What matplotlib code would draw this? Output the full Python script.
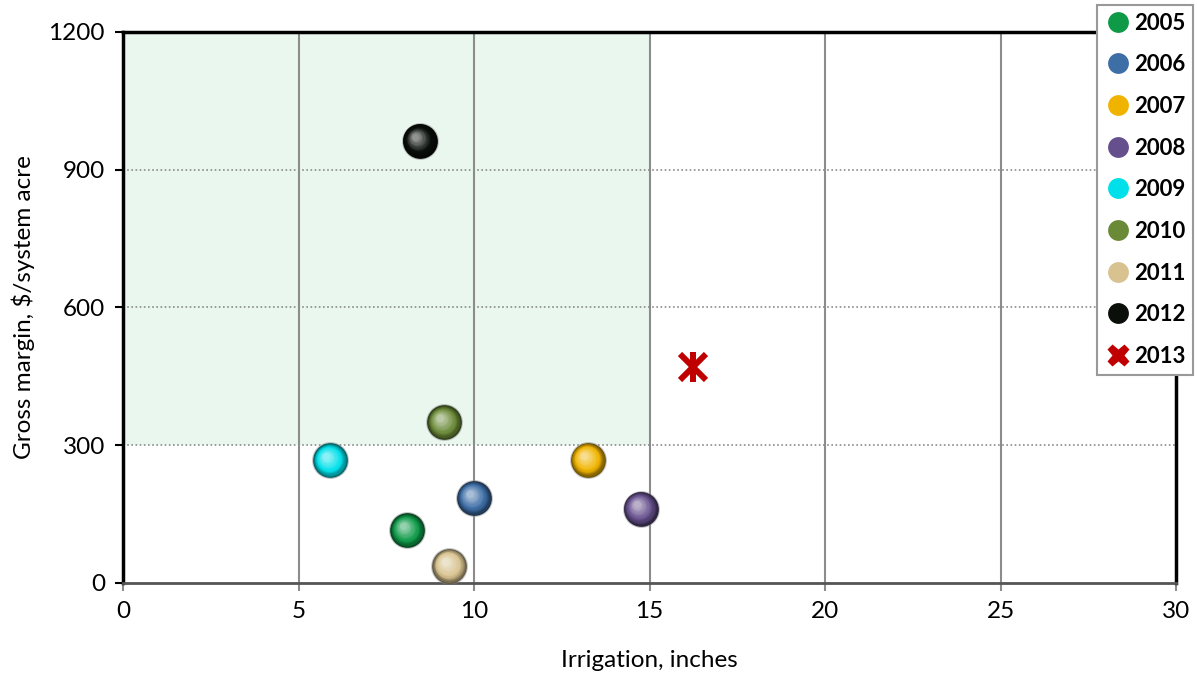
import numpy as np
import matplotlib
matplotlib.use('Agg')
import matplotlib.pyplot as plt
import matplotlib.colors as mcolors
from matplotlib.lines import Line2D
from matplotlib.transforms import offset_copy

plt.rcParams['font.family'] = ['Lato', 'DejaVu Sans']

years = ['2005', '2006', '2007', '2008', '2009', '2010', '2011', '2012']
irrigation = [8.1, 10.0, 13.25, 14.75, 5.9, 9.15, 9.3, 8.45]
margin = [115, 185, 268, 162, 267, 350, 37, 963]
colors = ['#0f9a48', '#3e6ea6', '#f0b400', '#654f8c', '#00e0ea', '#6b8a38', '#d8c390', '#0a0f0a']

x_2013 = 16.25
y_2013 = 470

xticks = [0, 5, 10, 15, 20, 25, 30]
yticks = [0, 300, 600, 900, 1200]


def sphere(ax, x, y, color, size=25, layers=14):
    # fake 3d ball: dark rim, lighter spot towards the top left
    base = np.array(mcolors.to_rgb(color))
    dark = base * 0.45
    light = base + (1 - base) * 0.55
    ax.plot(x, y, 'o', ms=size + 1.5, color='#888888', alpha=0.5, zorder=4, mec='none')
    for i in range(layers):
        f = i / (layers - 1)
        s = size * (1 - 0.8 * f)
        if f < 0.35:
            c = dark + (base - dark) * (f / 0.35)
        else:
            c = base + (light - base) * ((f - 0.35) / 0.65)
        tr = offset_copy(ax.transData, fig=ax.figure, x=-size * 0.12 * f, y=size * 0.12 * f, units='points')
        ax.plot(x, y, 'o', ms=s, color=np.clip(c, 0, 1), mec='none', transform=tr, zorder=5)


fig = plt.figure(figsize=(11.97, 6.75), dpi=100)
ax = fig.add_axes([0.1028, 0.1363, 0.8797, 0.8163])

ax.set_xlim(0, 30)
ax.set_ylim(0, 1200)

# shaded target zone
ax.fill_between([0, 15], 300, 1200, color='#eaf7ee', zorder=0, lw=0)

for xv in xticks[1:-1]:
    ax.axvline(xv, color='#8c8c8c', lw=1.5, zorder=1)
for yv in yticks[1:-1]:
    ax.axhline(yv, color='#8c8c8c', lw=1.2, ls=(0, (1, 1.5)), zorder=1)

for i in range(len(years)):
    sphere(ax, irrigation[i], margin[i], colors[i])

# excel style asterisk: an X with a vertical bar through it
ax.plot(x_2013, y_2013, marker='x', ms=19, mew=4.3, color='#c00000', ls='none', zorder=6)
ax.plot(x_2013, y_2013, marker='|', ms=21, mew=4.3, color='#c00000', ls='none', zorder=6)

ax.set_xticks(xticks)
ax.set_yticks(yticks)
ax.tick_params(axis='both', labelsize=17.5, length=6, width=1.5)
ax.tick_params(axis='x', colors='#8c8c8c', labelcolor='black', pad=7)
ax.tick_params(axis='y', colors='black', pad=7)

for s in ['top', 'left', 'right']:
    ax.spines[s].set_linewidth(2.5)
    ax.spines[s].set_color('black')
ax.spines['bottom'].set_linewidth(2)
ax.spines['bottom'].set_color('#555555')

ax.set_xlabel('Irrigation, inches', fontsize=17.5, labelpad=20)
ax.set_ylabel('Gross margin, $/system acre', fontsize=17.5, labelpad=10)

handles = []
for i in range(len(years)):
    handles.append(Line2D([], [], marker='o', ls='none', ms=15, color=colors[i], mec='none'))
handles.append(Line2D([], [], marker='X', ls='none', ms=16, color='#c00000', mec='none'))
leg = fig.legend(handles, years + ['2013'], loc='upper right', bbox_to_anchor=(0.9965, 0.993),
                 frameon=True, fancybox=False, edgecolor='#999999', framealpha=1,
                 prop={'weight': 'bold', 'size': 16}, handletextpad=0.1,
                 labelspacing=0.93, borderpad=0.35, handlelength=1.2, borderaxespad=0)
leg.get_frame().set_linewidth(1.5)

fig.savefig('out.png', dpi=100)
